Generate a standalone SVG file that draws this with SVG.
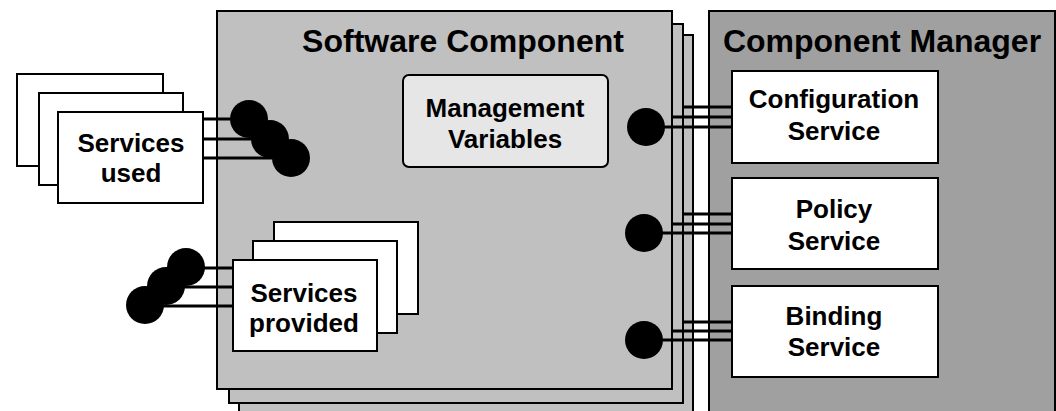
<svg xmlns="http://www.w3.org/2000/svg" width="1056" height="411" viewBox="0 0 1056 411">
  <style>
    .box { fill: #ffffff; stroke: #000000; stroke-width: 2; }
    .comp { fill: #c0c0c0; stroke: #000000; stroke-width: 2; }
    .mgr { fill: #a0a0a0; stroke: #000000; stroke-width: 2; }
    .vars { fill: #e6e6e6; stroke: #000000; stroke-width: 2; }
    .wire { stroke: #000000; stroke-width: 3; fill: none; }
    .port { fill: #000000; }
    text { font-family: "Liberation Sans", Arial, sans-serif; font-weight: bold; fill: #000000; text-anchor: middle; }
    .title { font-size: 32px; }
    .label { font-size: 26px; }
  </style>

  <!-- Component Manager panel -->
  <g id="component-manager">
    <rect class="mgr" x="709" y="11" width="346" height="410"/>
    <text class="title" x="882" y="52">Component Manager</text>
  </g>

  <!-- Software Component: three stacked instances -->
  <g id="software-component">
    <rect class="comp" x="239" y="35" width="454" height="390"/>
    <rect class="comp" x="229" y="24" width="454" height="379"/>
    <rect class="comp" x="217" y="11" width="455" height="378"/>
    <text class="title" x="463" y="52">Software Component</text>
  </g>

  <g id="management-variables">
    <rect class="vars" x="403" y="75" width="205" height="92" rx="6" ry="6"/>
    <text class="label" x="505" y="117">Management</text>
    <text class="label" x="505" y="148">Variables</text>
  </g>

  <g id="services-used">
    <rect class="box" x="17" y="74" width="146" height="92"/>
    <rect class="box" x="39" y="93" width="144" height="92"/>
    <rect class="box" x="58" y="112" width="145" height="91"/>
    <text class="label" x="131" y="152">Services</text>
    <text class="label" x="131" y="182">used</text>
  </g>

  <g id="services-provided">
    <rect class="box" x="274" y="222" width="144" height="92"/>
    <rect class="box" x="253" y="241" width="144" height="92"/>
    <rect class="box" x="233" y="260" width="144" height="91"/>
    <text class="label" x="304" y="302">Services</text>
    <text class="label" x="304" y="332">provided</text>
  </g>

  <g id="configuration-service">
    <rect class="box" x="732" y="71" width="206" height="92"/>
    <text class="label" x="834" y="108">Configuration</text>
    <text class="label" x="834" y="140">Service</text>
  </g>

  <g id="policy-service">
    <rect class="box" x="732" y="178" width="206" height="91"/>
    <text class="label" x="834" y="218">Policy</text>
    <text class="label" x="834" y="250">Service</text>
  </g>

  <g id="binding-service">
    <rect class="box" x="732" y="286" width="206" height="91"/>
    <text class="label" x="834" y="325">Binding</text>
    <text class="label" x="834" y="356">Service</text>
  </g>

  <!-- Connectors: interface lines ending in ports -->
  <g id="connectors">
    <!-- services used -->
    <line class="wire" x1="203" y1="119" x2="249" y2="119"/>
    <line class="wire" x1="203" y1="139" x2="270" y2="139"/>
    <line class="wire" x1="203" y1="158" x2="291" y2="158"/>
    <circle class="port" cx="249" cy="119" r="19"/>
    <circle class="port" cx="270" cy="139" r="19"/>
    <circle class="port" cx="291" cy="158" r="19"/>

    <!-- services provided -->
    <line class="wire" x1="233" y1="268" x2="186" y2="268"/>
    <line class="wire" x1="233" y1="287" x2="166" y2="287"/>
    <line class="wire" x1="233" y1="306" x2="145" y2="306"/>
    <circle class="port" cx="186" cy="267" r="19"/>
    <circle class="port" cx="166" cy="286" r="19"/>
    <circle class="port" cx="145" cy="305" r="19"/>

    <!-- configuration -->
    <line class="wire" x1="683" y1="107" x2="732" y2="107"/>
    <line class="wire" x1="672" y1="117" x2="732" y2="117"/>
    <line class="wire" x1="646" y1="127" x2="732" y2="127"/>
    <circle class="port" cx="646" cy="127" r="19"/>

    <!-- policy -->
    <line class="wire" x1="683" y1="214" x2="732" y2="214"/>
    <line class="wire" x1="672" y1="224" x2="732" y2="224"/>
    <line class="wire" x1="644" y1="233" x2="732" y2="233"/>
    <circle class="port" cx="644" cy="233" r="19"/>

    <!-- binding -->
    <line class="wire" x1="683" y1="322" x2="732" y2="322"/>
    <line class="wire" x1="672" y1="331" x2="732" y2="331"/>
    <line class="wire" x1="644" y1="340" x2="732" y2="340"/>
    <circle class="port" cx="644" cy="340" r="19"/>
  </g>
</svg>
